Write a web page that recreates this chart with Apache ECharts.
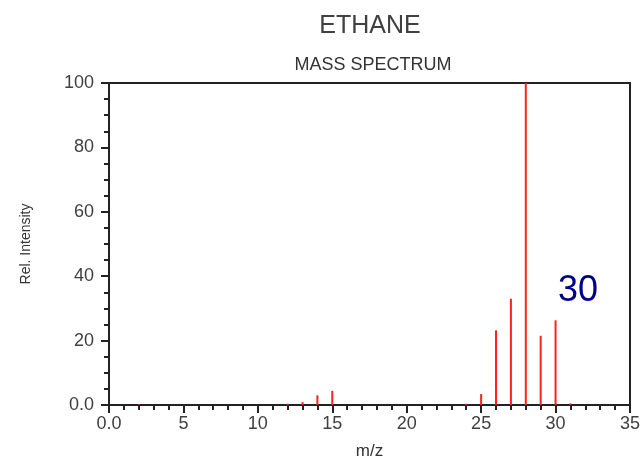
<!DOCTYPE html>
<html>
<head>
<meta charset="utf-8">
<script src="https://cdn.jsdelivr.net/npm/echarts@6/dist/echarts.min.js"></script>
<style>html,body{margin:0;padding:0;background:#fff;overflow:hidden}#c{width:643px;height:465px}</style>
</head>
<body>
<div id="c"></div>
<script>
const mz = [2, 12, 13, 14, 15, 24, 25, 26, 27, 28, 29, 30, 31];
const intensity = [0.2, 0.4, 0.9, 3.0, 4.4, 0.4, 3.4, 23.2, 33.0, 100, 21.5, 26.3, 0.5];
const xTicks = [0, 5, 10, 15, 20, 25, 30, 35];
const yTicks = [0, 20, 40, 60, 80, 100];
const titleText = 'ETHANE';
const subtitleText = 'MASS SPECTRUM';
const annotation = '30';

const font = '"Liberation Sans", Arial, sans-serif';
const chart = echarts.init(document.getElementById('c'), null, {renderer: 'canvas'});
chart.setOption({
  animation: false,
  backgroundColor: '#fff',
  title: [
    {text: titleText, left: 365, top: 9, textAlign: 'center',
     textStyle: {fontFamily: font, fontSize: 25, fontWeight: 'normal', color: '#404040'}},
    {text: subtitleText, left: 368, top: 51, textAlign: 'center',
     textStyle: {fontFamily: font, fontSize: 18, fontWeight: 'normal', color: '#333'}},
    {text: annotation, left: 573, top: 268, textAlign: 'center',
     textStyle: {fontFamily: font, fontSize: 36, fontWeight: 'normal', color: '#00008B'}}
  ],
  grid: {left: 109, right: 9, top: 83, bottom: 56, show: true, borderColor: '#222', borderWidth: 2, backgroundColor: 'transparent'},
  xAxis: {
    type: 'value', min: xTicks[0], max: xTicks[xTicks.length - 1], interval: 5,
    name: 'm/z', nameLocation: 'middle', nameGap: 38,
    nameTextStyle: {fontFamily: font, fontSize: 17, color: '#333'},
    axisLine: {show: true, onZero: false, lineStyle: {color: '#222', width: 2}},
    axisTick: {show: true, inside: false, length: 8, lineStyle: {color: '#222', width: 2}},
    minorTick: {show: true, splitNumber: 5, length: 5, lineStyle: {color: '#222', width: 2}},
    splitLine: {show: false},
    axisLabel: {fontFamily: font, fontSize: 18, color: '#404040', margin: 10,
      formatter: v => v === 0 ? '0.0' : String(v)}
  },
  yAxis: {
    type: 'value', min: yTicks[0], max: yTicks[yTicks.length - 1], interval: 20,
    name: 'Rel. Intensity', nameLocation: 'middle', nameGap: 76, nameRotate: 90,
    nameTextStyle: {fontFamily: font, fontSize: 14, color: '#333'},
    axisLine: {show: true, lineStyle: {color: '#222', width: 2}},
    axisTick: {show: true, inside: false, length: 8, lineStyle: {color: '#222', width: 2}},
    minorTick: {show: true, splitNumber: 4, length: 5, lineStyle: {color: '#222', width: 2}},
    splitLine: {show: false},
    axisLabel: {fontFamily: font, fontSize: 18, color: '#404040', margin: 15,
      formatter: v => v === 0 ? '0.0' : String(v)}
  },
  series: [{
    type: 'bar',
    barWidth: 2,
    itemStyle: {color: '#ff2020'},
    data: mz.map((m, i) => [m, intensity[i]])
  }]
});
</script>
</body>
</html>
